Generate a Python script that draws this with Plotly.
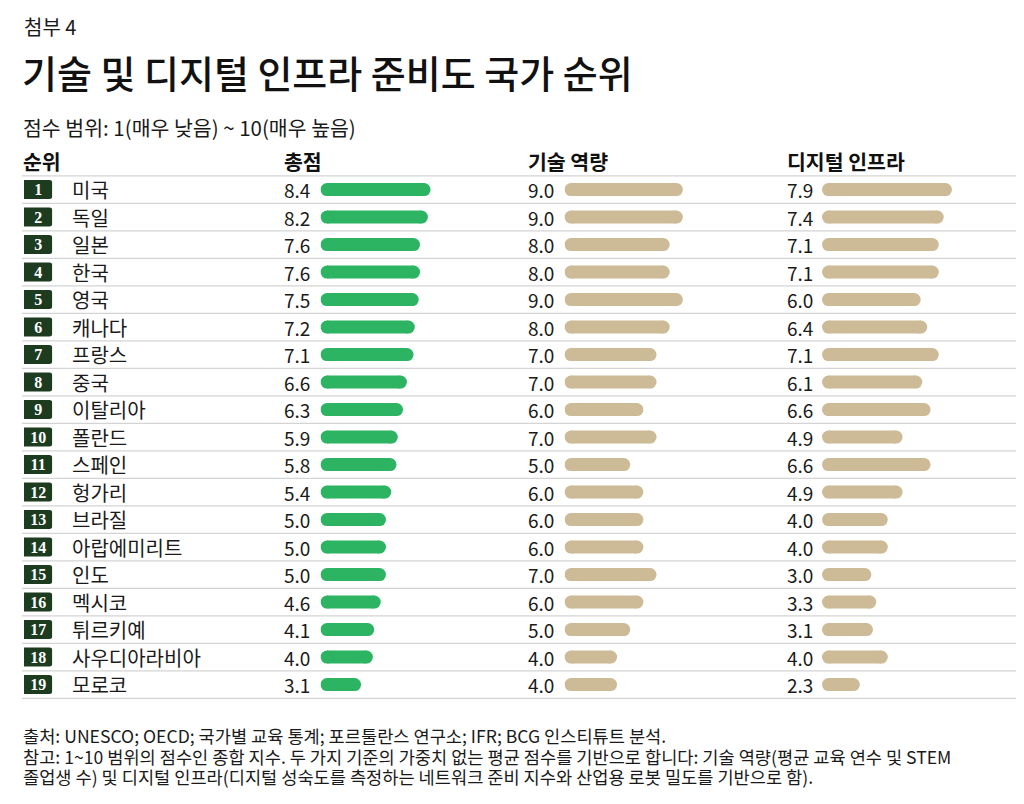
import plotly.graph_objects as go

# data
ranks = list(range(1, 20))
countries = ["미국", "독일", "일본", "한국", "영국", "캐나다", "프랑스", "중국", "이탈리아", "폴란드",
             "스페인", "헝가리", "브라질", "아랍에미리트", "인도", "멕시코", "튀르키예", "사우디아라비아", "모로코"]
total = [8.4, 8.2, 7.6, 7.6, 7.5, 7.2, 7.1, 6.6, 6.3, 5.9, 5.8, 5.4, 5.0, 5.0, 5.0, 4.6, 4.1, 4.0, 3.1]
skill = [9.0, 9.0, 8.0, 8.0, 9.0, 8.0, 7.0, 7.0, 6.0, 7.0, 5.0, 6.0, 6.0, 6.0, 7.0, 6.0, 5.0, 4.0, 4.0]
digital = [7.9, 7.4, 7.1, 7.1, 6.0, 6.4, 7.1, 6.1, 6.6, 4.9, 6.6, 4.9, 4.0, 4.0, 3.0, 3.3, 3.1, 4.0, 2.3]
headers = ["순위", "총점", "기술 역량", "디지털 인프라"]

# the page body adds an 8px margin, so the figure is a bit smaller and positions are page pixels minus 8
OFF = 8
W, H = 1016, 796
FONT = "Noto Sans CJK KR"
TXT = "#1a1a1a"
GREEN = "#2db463"
TAN = "#ccbb96"
DARK = "#1c3b1f"

ROW_PX = 27.5
ROW1_PX = 189.6 - OFF
BAR_H = 13  # pill thickness in px


def px(x):
    return (x - OFF) / W


def py(y):
    return 1 - (y - OFF) / H


fig = go.Figure()

# rank boxes
fig.add_trace(go.Bar(
    x=[1] * len(ranks), y=ranks, orientation="h", xaxis="x5",
    marker=dict(color=DARK, cornerradius=3, line=dict(width=0)), width=19 / ROW_PX,
    text=[str(r) for r in ranks], textposition="inside", insidetextanchor="middle",
    textangle=0, constraintext="none",
    textfont=dict(family="Liberation Serif", size=16, color="white", weight="bold"),
    hoverinfo="skip",
))

# pill bars: a thick line with round dots at both ends, caps kept inside 0..value
columns = [(total, GREEN, "x2", 320.5, 131), (skill, TAN, "x3", 564.5, 131.5), (digital, TAN, "x4", 822, 164.5)]
for vals, col, ax, x0, span in columns:
    cap = (BAR_H / 2) / (span / 10)  # cap radius in data units
    xs, ys = [], []
    for r, v in zip(ranks, vals):
        xs += [cap, v - cap, None]
        ys += [r, r, None]
    fig.add_trace(go.Scatter(
        x=xs, y=ys, xaxis=ax, mode="lines+markers", connectgaps=False,
        line=dict(color=col, width=BAR_H),
        marker=dict(color=col, size=BAR_H, symbol="circle", line=dict(width=0)),
        hoverinfo="skip",
    ))

ann = []
# country names and values
for r, c, t, s, d in zip(ranks, countries, total, skill, digital):
    ann.append(dict(x=px(70), y=r, text=c, font=dict(size=20)))
    for xv, v in [(282, t), (526, s), (785, d)]:
        ann.append(dict(x=px(xv), y=r, text=f"{v:.1f}", font=dict(size=19)))
for a in ann:
    a.update(xref="paper", yref="y", xanchor="left", yanchor="middle", showarrow=False)
    a["font"].update(family=FONT, color=TXT)


def ptext(x, y, text, size, weight="normal", color=TXT):
    return dict(x=px(x), y=py(y), xref="paper", yref="paper", text=text, xanchor="left",
                yanchor="middle", showarrow=False, font=dict(family=FONT, size=size, color=color, weight=weight))


# headers
for hx, h in zip([21, 282, 526, 785], headers):
    ann.append(ptext(hx, 161, h, 20.5, weight="bold", color="#111"))

ann.append(ptext(22, 26, "첨부 4", 20))
ann.append(ptext(20, 71, "기술 및 디지털 인프라 준비도 국가 순위", 38, weight=500, color="#111"))
ann.append(ptext(21, 127, "점수 범위: 1(매우 낮음) ~ 10(매우 높음)", 20.5))
ann.append(ptext(21, 735, "출처: UNESCO; OECD; 국가별 교육 통계; 포르툴란스 연구소; IFR; BCG 인스티튜트 분석.", 17.6))
ann.append(ptext(21, 756, "참고: 1~10 범위의 점수인 종합 지수. 두 가지 기준의 가중치 없는 평균 점수를 기반으로 합니다: "
                          "기술 역량(평균 교육 연수 및 STEM", 17.6))
ann.append(ptext(21, 776, "졸업생 수) 및 디지털 인프라(디지털 성숙도를 측정하는 네트워크 준비 지수와 "
                          "산업용 로봇 밀도를 기반으로 함).", 17.6))

# row separators
shapes = []
for i in range(len(ranks) + 1):
    shapes.append(dict(type="line", xref="paper", yref="y", x0=px(22), x1=px(1018), y0=i + 0.5, y1=i + 0.5,
                       line=dict(color="#d4d4d4", width=1.2)))

hidden = dict(visible=False, showgrid=False, zeroline=False, fixedrange=True)
y_top = 1 - ROW1_PX / ROW_PX
y_bot = 1 + (H - ROW1_PX) / ROW_PX

fig.update_layout(
    width=W, height=H, margin=dict(l=0, r=0, t=0, b=0),
    paper_bgcolor="white", plot_bgcolor="white", showlegend=False, barmode="overlay",
    font=dict(family=FONT),
    yaxis=dict(range=[y_bot, y_top], domain=[0, 1], **hidden),
    xaxis=dict(domain=[0, 1], range=[0, 1], **hidden),
    xaxis5=dict(domain=[px(24), px(52.3)], range=[0, 1], anchor="y", **hidden),
    annotations=ann, shapes=shapes,
)
for vals, col, ax, x0, span in columns:
    fig.update_layout({"xaxis" + ax[1:]: dict(domain=[px(x0), px(x0 + span)], range=[0, 10], anchor="y", **hidden)})

fig.write_html("out.html")
